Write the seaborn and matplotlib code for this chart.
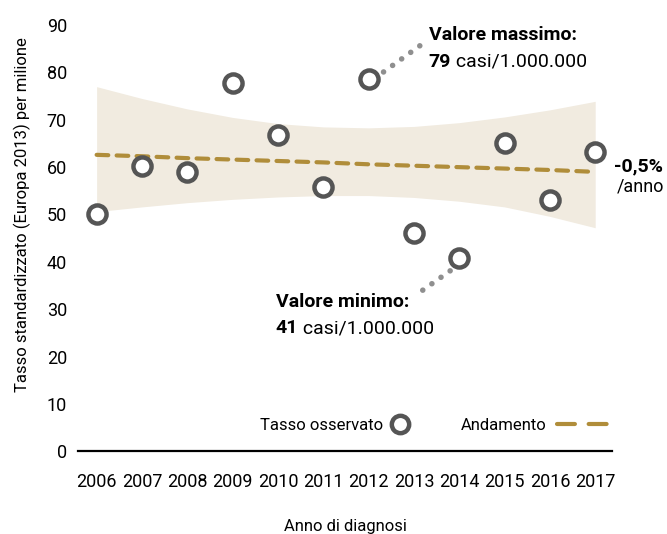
import numpy as np
import pandas as pd
import seaborn as sns
import matplotlib.pyplot as plt
from matplotlib.lines import Line2D

years = [2006, 2007, 2008, 2009, 2010, 2011, 2012, 2013, 2014, 2015, 2016, 2017]
observed = [50.0, 60.2, 58.9, 77.8, 66.8, 55.9, 78.6, 46.0, 40.9, 65.2, 53.1, 63.3]
trend = [62.6, 62.3, 61.9, 61.6, 61.3, 61.0, 60.6, 60.3, 60.0, 59.7, 59.4, 59.0]
band_upper = [77.0, 74.5, 72.3, 70.5, 69.2, 68.5, 68.3, 68.6, 69.4, 70.6, 72.1, 73.9]
band_lower = [50.6, 51.6, 52.5, 53.2, 53.7, 54.0, 54.0, 53.6, 52.8, 51.6, 49.6, 47.2]
y_ticks = [0, 10, 20, 30, 40, 50, 60, 70, 80, 90]

gold = "#b08d3a"
grey = "#555555"
dots = "#8f8f8f"
band_col = "#f1ebe0"

sns.set_style("white")
plt.rcParams["font.family"] = ["Roboto", "DejaVu Sans"]
plt.rcParams["text.color"] = "black"
plt.rcParams["axes.labelcolor"] = "black"

df = pd.DataFrame({"anno": years, "tasso": observed, "trend": trend})

fig = plt.figure(figsize=(6.67, 5.34), dpi=100)
ax = fig.add_axes([0.117, 0.155, 0.8005, 0.798])

ax.fill_between(years, band_lower, band_upper, color=band_col, lw=0, zorder=1)
sns.lineplot(data=df, x="anno", y="trend", ax=ax, color=gold, lw=3,
             dashes=False, zorder=2)
ax.lines[-1].set_dashes([2.8, 2.0])
ax.lines[-1].set_dash_capstyle("round")
sns.scatterplot(data=df, x="anno", y="tasso", ax=ax, s=170, color="white",
                edgecolor=grey, linewidth=3.2, zorder=3)

# leader lines to the max / min labels
i_max = int(np.argmax(observed))
i_min = int(np.argmin(observed))
ax.plot([years[i_max] + 0.33, years[i_max] + 1.3],
        [observed[i_max] + 1.5, observed[i_max] + 8.2],
        color=dots, lw=4, linestyle=(0, (0.01, 2.0)),
        dash_capstyle="round", zorder=2)
ax.plot([years[i_min] - 0.2, years[i_min] - 0.94],
        [observed[i_min] - 2.8, observed[i_min] - 7.8],
        color=dots, lw=4, linestyle=(0, (0.01, 2.0)),
        dash_capstyle="round", zorder=2)

fs = 12
afs = 14
ax.text(2013.33, 87.9, "Valore massimo:", fontsize=afs, fontweight="bold",
        va="center", ha="left")
t = ax.text(2013.33, 82.3, f"{observed[i_max]:.0f}", fontsize=afs,
            fontweight="bold", va="center", ha="left")
ax.annotate(" casi/1.000.000", xy=(1, 0.5), xycoords=t, fontsize=afs,
            va="center", ha="left")
ax.text(2009.95, 31.6, "Valore minimo:", fontsize=afs, fontweight="bold",
        va="center", ha="left")
t = ax.text(2009.95, 26.0, f"{observed[i_min]:.0f}", fontsize=afs,
            fontweight="bold", va="center", ha="left")
ax.annotate(" casi/1.000.000", xy=(1, 0.5), xycoords=t, fontsize=afs,
            va="center", ha="left")

ax.text(2017.42, 60.2, "-0,5%", fontsize=afs, fontweight="bold",
        va="center", ha="left", clip_on=False)
ax.text(2017.47, 55.9, "/anno", fontsize=13, va="center", ha="left",
        clip_on=False)

# legend: label first, symbol after
h_obs = Line2D([], [], marker="o", color="none", markerfacecolor="white",
               markeredgecolor=grey, markeredgewidth=3.2, markersize=12.5)
h_trend = Line2D([], [], color=gold, lw=3, dashes=[4.3, 3.3],
                 dash_capstyle="round")
leg1 = ax.legend([h_obs], ["Tasso osservato"], markerfirst=False,
                 frameon=False, fontsize=fs, loc="center right",
                 bbox_to_anchor=(0.624, 0.061), handlelength=1.3,
                 handletextpad=0.4, borderaxespad=0, borderpad=0)
ax.add_artist(leg1)
ax.legend([h_trend], ["Andamento"], markerfirst=False, frameon=False,
          fontsize=fs, loc="center right", bbox_to_anchor=(0.996, 0.061),
          handlelength=3.2, handletextpad=0.6, borderaxespad=0, borderpad=0)

ax.set_xlim(2005.59, 2017.37)
ax.set_ylim(0, 90)
ax.set_xticks(years)
ax.set_yticks(y_ticks)
ax.tick_params(axis="both", length=0, labelsize=13, colors="black")
ax.tick_params(axis="x", pad=16)
ax.tick_params(axis="y", pad=8)
for s in ["top", "right", "left"]:
    ax.spines[s].set_visible(False)
ax.spines["bottom"].set_color("black")
ax.spines["bottom"].set_linewidth(1.6)
ax.set_xlabel("Anno di diagnosi", fontsize=fs, labelpad=20)
ax.set_ylabel("Tasso standardizzato (Europa 2013) per milione", fontsize=fs)
ax.yaxis.set_label_coords(-0.088, 0.556)

fig.savefig("out.png", dpi=100)
